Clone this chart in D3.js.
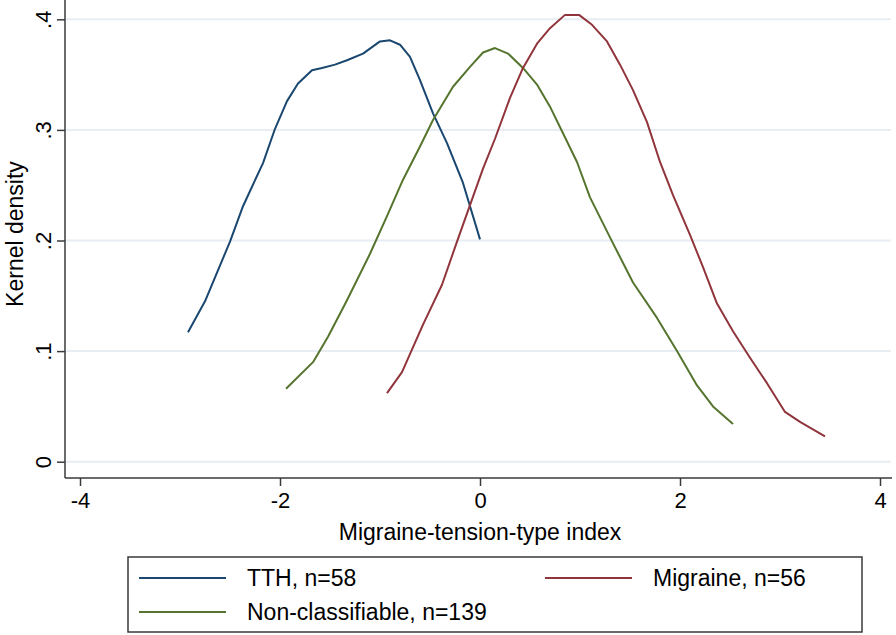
<!DOCTYPE html>
<html>
<head>
<meta charset="utf-8">
<script src="https://cdn.jsdelivr.net/npm/d3@7"></script>
<style>
	body { margin: 0; background: #fff; }
	text { font-family: "Liberation Sans", Arial, Helvetica, sans-serif; fill: #000; }
</style>
</head>
<body>
<div id="chart"></div>
<script>
// kernel density estimates
var tthX = [-2.92, -2.75, -2.50, -2.37, -2.17, -2.05, -1.93, -1.82, -1.68, -1.58, -1.45, -1.33, -1.17, -1.00, -0.90, -0.80, -0.70, -0.60, -0.47, -0.33, -0.17, 0.00];
var tthY = [0.117, 0.145, 0.199, 0.231, 0.270, 0.301, 0.326, 0.342, 0.354, 0.356, 0.359, 0.363, 0.369, 0.380, 0.381, 0.377, 0.366, 0.345, 0.315, 0.288, 0.252, 0.201];

var nonX = [-1.94, -1.67, -1.52, -1.33, -1.10, -0.93, -0.77, -0.60, -0.47, -0.27, -0.10, 0.03, 0.15, 0.28, 0.43, 0.57, 0.70, 0.83, 0.97, 1.10, 1.31, 1.53, 1.77, 1.97, 2.17, 2.33, 2.53];
var nonY = [0.066, 0.090, 0.113, 0.146, 0.188, 0.222, 0.255, 0.285, 0.309, 0.339, 0.357, 0.370, 0.374, 0.369, 0.356, 0.341, 0.321, 0.297, 0.271, 0.239, 0.201, 0.162, 0.130, 0.100, 0.069, 0.050, 0.034];

var migX = [-0.93, -0.78, -0.57, -0.38, -0.23, -0.10, 0.03, 0.15, 0.30, 0.43, 0.57, 0.70, 0.85, 0.99, 1.12, 1.27, 1.40, 1.53, 1.67, 1.80, 1.93, 2.10, 2.23, 2.37, 2.53, 2.70, 2.87, 3.05, 3.20, 3.45];
var migY = [0.062, 0.081, 0.124, 0.160, 0.199, 0.232, 0.265, 0.292, 0.329, 0.356, 0.378, 0.392, 0.404, 0.404, 0.395, 0.380, 0.359, 0.336, 0.307, 0.271, 0.241, 0.205, 0.176, 0.143, 0.118, 0.094, 0.071, 0.045, 0.036, 0.023];

var seriesNames = ['TTH, n=58', 'Non-classifiable, n=139', 'Migraine, n=56'];
var seriesColors = ['#1a476f', '#55752f', '#90353b'];
var xTicks = [-4, -2, 0, 2, 4];
var xTickLabels = ['-4', '-2', '0', '2', '4'];
var yTicks = [0, 0.1, 0.2, 0.3, 0.4];
var yTickLabels = ['0', '.1', '.2', '.3', '.4'];

var width = 896, height = 635;
var svg = d3.select('#chart')
	.append('svg')
	.attr('width', width)
	.attr('height', height);

var x = d3.scaleLinear().domain([-4, 4]).range([80, 880]);
var y = d3.scaleLinear().domain([0, 0.4]).range([461.7, 19.3]);
var axisLeft = 65, axisBottom = 478, plotRight = 892;

//gridlines
svg.selectAll('line.grid')
	.data(yTicks)
	.enter()
	.append('line')
	.attr('class', 'grid')
	.attr('x1', axisLeft + 1)
	.attr('x2', plotRight - 1)
	.attr('y1', d => y(d))
	.attr('y2', d => y(d))
	.attr('stroke', '#e7edf3')
	.attr('stroke-width', 2);

//y axis
var yAxis = svg.append('g')
	.attr('transform', 'translate(' + axisLeft + ',0)')
	.call(d3.axisLeft(y).tickValues(yTicks).tickSize(8).tickFormat((d, i) => yTickLabels[i]));
yAxis.select('.domain').attr('d', 'M0,0V' + axisBottom);
yAxis.selectAll('.tick text').remove();
yAxis.selectAll('.tick')
	.append('text')
	.attr('transform', 'translate(-14,0) rotate(-90)')
	.attr('text-anchor', 'middle')
	.attr('font-size', 22)
	.text((d, i) => yTickLabels[i]);

//x axis
var xAxis = svg.append('g')
	.attr('transform', 'translate(0,' + axisBottom + ')')
	.call(d3.axisBottom(x).tickValues(xTicks).tickSize(8).tickFormat((d, i) => xTickLabels[i]));
xAxis.select('.domain').attr('d', 'M' + axisLeft + ',0H' + plotRight);
xAxis.selectAll('.tick text')
	.attr('font-size', 22)
	.attr('y', 14)
	.attr('dy', '0.71em');

[yAxis, xAxis].forEach(function(g){
	g.select('.domain').attr('stroke', '#3a3a3a').attr('stroke-width', 1.5);
	g.selectAll('.tick line').attr('stroke', '#3a3a3a').attr('stroke-width', 1.5);
	g.attr('font-family', null);
});

//axis titles
svg.append('text')
	.attr('transform', 'translate(23,234) rotate(-90)')
	.attr('text-anchor', 'middle')
	.attr('font-size', 23)
	.text('Kernel density');
svg.append('text')
	.attr('x', 480)
	.attr('y', 540)
	.attr('text-anchor', 'middle')
	.attr('font-size', 23)
	.text('Migraine-tension-type index');

//density curves
var line = d3.line()
	.x(d => x(d[0]))
	.y(d => y(d[1]));
var curves = [d3.zip(tthX, tthY), d3.zip(nonX, nonY), d3.zip(migX, migY)];
svg.selectAll('path.curve')
	.data(curves)
	.enter()
	.append('path')
	.attr('class', 'curve')
	.attr('d', line)
	.attr('fill', 'none')
	.attr('stroke', (d, i) => seriesColors[i])
	.attr('stroke-width', 2)
	.attr('stroke-linejoin', 'round');

//legend
var legend = svg.append('g');
legend.append('rect')
	.attr('x', 128)
	.attr('y', 557)
	.attr('width', 734)
	.attr('height', 75)
	.attr('fill', '#fff')
	.attr('stroke', '#3a3a3a')
	.attr('stroke-width', 1.5);
var legendPos = [[139, 578], [139, 612], [545, 578]];
var items = legend.selectAll('g.item')
	.data(seriesNames)
	.enter()
	.append('g')
	.attr('class', 'item')
	.attr('transform', (d, i) => 'translate(' + legendPos[i][0] + ',' + legendPos[i][1] + ')');
items.append('line')
	.attr('x1', 0)
	.attr('x2', 87)
	.attr('stroke', (d, i) => seriesColors[i])
	.attr('stroke-width', 2);
items.append('text')
	.attr('x', 108)
	.attr('dy', '0.36em')
	.attr('font-size', 23)
	.text(d => d);
</script>
</body>
</html>
